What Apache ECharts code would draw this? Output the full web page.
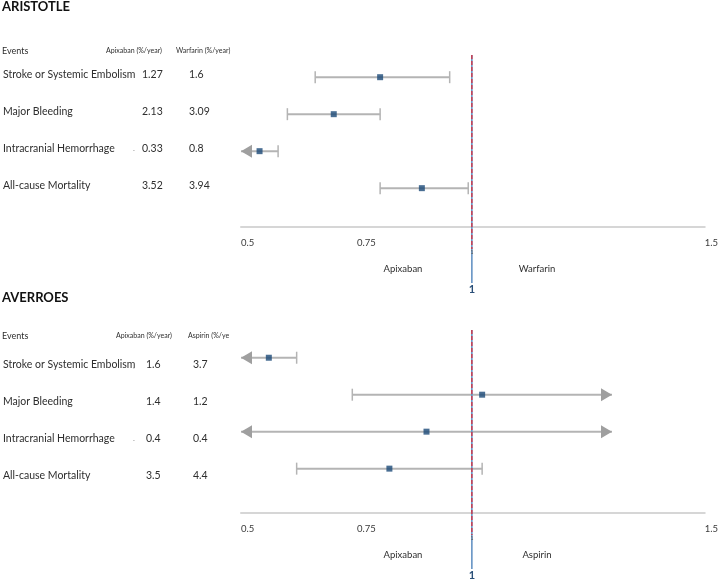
<!DOCTYPE html>
<html>
<head>
<meta charset="utf-8">
<script src="https://cdn.jsdelivr.net/npm/echarts@6/dist/echarts.min.js"></script>
<style>html,body{margin:0;padding:0;background:#fff}#c{width:721px;height:580px}</style>
</head>
<body>
<div id="c"></div>
<script>
// ---- data ----
const events = ['Stroke or Systemic Embolism', 'Major Bleeding', 'Intracranial Hemorrhage', 'All-cause Mortality'];

const aristotleApixaban = ['1.27', '2.13', '0.33', '3.52'];
const aristotleWarfarin = ['1.6', '3.09', '0.8', '3.94'];
const aristotleHR = [0.80, 0.70, 0.54, 0.89];
const aristotleLow = [0.66, 0.60, 0.50, 0.80];
const aristotleHigh = [0.95, 0.80, 0.58, 0.99];
const aristotleArrowLow = [0, 0, 1, 0];
const aristotleArrowHigh = [0, 0, 0, 0];

const averroesApixaban = ['1.6', '1.4', '0.4', '3.5'];
const averroesAspirin = ['3.7', '1.2', '0.4', '4.4'];
const averroesHR = [0.56, 1.02, 0.90, 0.82];
const averroesLow = [0.50, 0.74, 0.50, 0.62];
const averroesHigh = [0.62, 1.30, 1.30, 1.02];
const averroesArrowLow = [1, 0, 1, 0];
const averroesArrowHigh = [0, 1, 1, 0];

const xTickLabels = ['0.5', '0.75', '1.5'];
const refValue = 1;

// ---- chart ----
const FONT = 'Lato, "Open Sans", sans-serif';
const chart = echarts.init(document.getElementById('c'));

const panels = [
  {title: 'ARISTOTLE', comp: 'Warfarin', h1: 'Apixaban (%/year)', h2: 'Warfarin (%/year)',
   a: aristotleApixaban, b: aristotleWarfarin, hr: aristotleHR, lo: aristotleLow, hi: aristotleHigh,
   al: aristotleArrowLow, ah: aristotleArrowHigh,
   top: 55, height: 172, yMin: -0.6, yMax: 4.05,
   titleY: 7, headY: 51, rowY: 74.5, rowStep: 37.1, h1x: 106, h2x: 176, c1x: 142, c2x: 189,
   dots: {2: '.'}},
  {title: 'AVERROES', comp: 'Aspirin', h1: 'Apixaban (%/year)', h2: 'Aspirin (%/ye',
   a: averroesApixaban, b: averroesAspirin, hr: averroesHR, lo: averroesLow, hi: averroesHigh,
   al: averroesArrowLow, ah: averroesArrowHigh,
   top: 330, height: 183, yMin: -0.75, yMax: 4.2,
   titleY: 298, headY: 336, rowY: 365, rowStep: 36.9, h1x: 116, h2x: 188, c1x: 146, c2x: 193,
   dots: {0: ',', 2: '.'}}
];

const grids = [], xAxes = [], yAxes = [], series = [], graphics = [];

panels.forEach((p, gi) => {
  grids.push({left: 241, right: 16, top: p.top, height: p.height});
  xAxes.push({
    gridIndex: gi, type: 'value', min: 0.5, max: 1.5, interval: 0.25,
    axisLine: {show: true, onZero: false, lineStyle: {color: '#d6d6d6', width: 2}},
    axisTick: {show: false}, splitLine: {show: false},
    axisLabel: {
      margin: 11, align: 'left', fontSize: 9.5, fontFamily: FONT, color: '#3a3a3a',
      formatter: v => { const s = String(v); return xTickLabels.indexOf(s) >= 0 ? s : ''; }
    }
  });
  yAxes.push({gridIndex: gi, type: 'value', min: p.yMin, max: p.yMax, inverse: true, show: false});

  const ciData = events.map((e, i) => [i, p.lo[i], p.hi[i], p.al[i], p.ah[i]]);
  series.push({
    type: 'custom', xAxisIndex: gi, yAxisIndex: gi, data: ciData, clip: false, z: 2,
    renderItem: (params, api) => {
      const row = api.value(0);
      const a = api.coord([api.value(1), row]);
      const b = api.coord([api.value(2), row]);
      const grey = '#b4b4b4', arrowGrey = '#9f9f9f';
      const ch = [{type: 'line', shape: {x1: a[0], y1: a[1], x2: b[0], y2: b[1]}, style: {stroke: grey, lineWidth: 2}}];
      if (api.value(3)) {
        ch.push({type: 'polygon', shape: {points: [[a[0], a[1]], [a[0] + 11, a[1] - 6.5], [a[0] + 11, a[1] + 6.5]]}, style: {fill: arrowGrey}});
      } else {
        ch.push({type: 'line', shape: {x1: a[0], y1: a[1] - 6, x2: a[0], y2: a[1] + 6}, style: {stroke: grey, lineWidth: 1.5}});
      }
      if (api.value(4)) {
        ch.push({type: 'polygon', shape: {points: [[b[0], b[1]], [b[0] - 11, b[1] - 6.5], [b[0] - 11, b[1] + 6.5]]}, style: {fill: arrowGrey}});
      } else {
        ch.push({type: 'line', shape: {x1: b[0], y1: b[1] - 6, x2: b[0], y2: b[1] + 6}, style: {stroke: grey, lineWidth: 1.5}});
      }
      return {type: 'group', children: ch};
    }
  });
  series.push({
    type: 'scatter', xAxisIndex: gi, yAxisIndex: gi, symbol: 'rect', symbolSize: 6, z: 4,
    itemStyle: {color: '#1c4a78'}, data: events.map((e, i) => [p.hr[i], i]), silent: true
  });
  // reference line at 1
  series.push({
    type: 'custom', xAxisIndex: gi, yAxisIndex: gi, data: [[refValue]], clip: false, z: 5,
    renderItem: (params, api) => {
      const t = api.coord([api.value(0), p.yMin]);
      const b = api.coord([api.value(0), p.yMax]);
      const x = t[0] - 1;
      return {type: 'group', children: [
        {type: 'line', shape: {x1: x, y1: t[1], x2: x, y2: b[1] + 56}, style: {stroke: '#5b8cc0', lineWidth: 1.5}},
        {type: 'line', shape: {x1: x, y1: t[1], x2: x, y2: b[1] + 22}, style: {stroke: '#d9303f', lineWidth: 1.3, lineDash: [4, 2]}},
        {type: 'text', style: {text: '1', x: x, y: b[1] + 25, fontSize: 5, fill: '#555', align: 'center', verticalAlign: 'middle', fontFamily: FONT}},
        {type: 'text', style: {text: '1', x: x, y: b[1] + 62, fontSize: 11, fontWeight: 'bold', fill: '#2a4f78', align: 'center', verticalAlign: 'middle', fontFamily: FONT}}
      ]};
    }
  });

  // table & labels
  const T = (text, x, y, size, opts) => Object.assign({
    type: 'text', x: x, y: y,
    style: Object.assign({text: text, fontSize: size, fontFamily: FONT, fill: '#2e2e2e', align: 'left', verticalAlign: 'middle'}, opts || {})
  });
  graphics.push(T(p.title, 2, p.titleY, 13, {fontWeight: 'bold', fill: '#111'}));
  graphics.push(T('Events', 2, p.headY, 9));
  graphics.push(T(p.h1, p.h1x, p.headY, 7));
  graphics.push(T(p.h2, p.h2x, p.headY, 7));
  events.forEach((e, i) => {
    const y = p.rowY + p.rowStep * i;
    graphics.push(T(e, 3, y, 10.5));
    graphics.push(T(p.a[i], p.c1x, y, 10.5));
    graphics.push(T(p.b[i], p.c2x, y, 10.5));
    if (p.dots[i]) graphics.push(T(p.dots[i], 133, y, 8, {fill: '#888'}));
  });
  const axisY = p.top + p.height;
  graphics.push(T('Apixaban', 403, axisY + 42, 9.5, {align: 'center'}));
  graphics.push(T(p.comp, 537, axisY + 42, 9.5, {align: 'center'}));
});

chart.setOption({
  animation: false,
  grid: grids, xAxis: xAxes, yAxis: yAxes, series: series, graphic: graphics
});
</script>
</body>
</html>
